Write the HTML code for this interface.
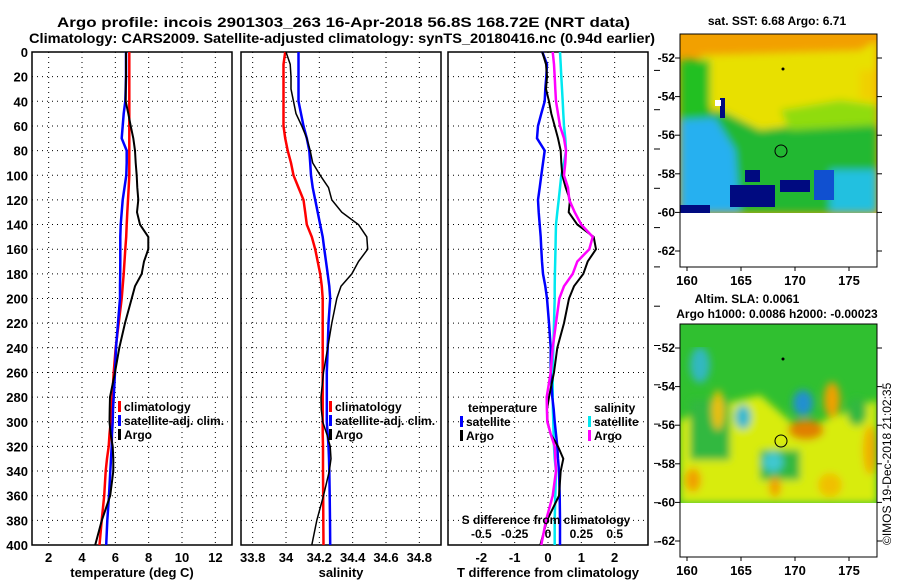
<!DOCTYPE html>
<html><head><meta charset="utf-8"><style>
body{margin:0;background:#fff}
svg{display:block;font-family:"Liberation Sans",sans-serif;font-weight:bold}
text{fill:#000}
</style></head><body>
<svg id="c" width="900" height="580" viewBox="0 0 900 580">
<defs>
<filter id="bl" x="0" y="0" width="1" height="1"><feGaussianBlur stdDeviation="4"/></filter>
<clipPath id="m1c"><rect x="680" y="34" width="197" height="179"/></clipPath>
<clipPath id="m2c"><rect x="680" y="324" width="197" height="179"/></clipPath>
</defs>
<text x="57" y="27" font-size="14" textLength="573" lengthAdjust="spacingAndGlyphs">Argo profile: incois 2901303_263 16-Apr-2018 56.8S 168.72E (NRT data)</text>
<text x="29" y="43" font-size="14" textLength="626" lengthAdjust="spacingAndGlyphs">Climatology: CARS2009. Satellite-adjusted climatology: synTS_20180416.nc (0.94d earlier)</text>
<g id="plots"></g>
<g id="maps">
 <g clip-path="url(#m1c)">
  <rect x="680" y="34" width="197" height="179" fill="#f2a000"/>
  <g filter="url(#bl)">
   <path d="M700 55 L860 50 L877 40 L877 140 L830 160 L760 150 L720 120 L700 90 Z" fill="#e8e000"/>
   <rect x="680" y="60" width="30" height="90" fill="#20c020"/>
   <rect x="860" y="70" width="17" height="30" fill="#f0d000"/>
   <path d="M680 120 L720 110 L760 130 L800 125 L877 120 L877 213 L680 213 Z" fill="#20b830"/>
   <path d="M780 110 L840 100 L877 105 L877 125 L790 130 Z" fill="#90dc10"/>
   <path d="M680 120 L715 118 L735 150 L740 213 L680 213 Z" fill="#28b0f0"/>
   <rect x="830" y="170" width="47" height="43" fill="#20c0e0"/>
  </g>
  <rect x="730" y="185" width="45" height="22" fill="#000a80"/>
  <rect x="745" y="170" width="15" height="12" fill="#000a80"/>
  <rect x="780" y="180" width="30" height="12" fill="#000a80"/>
  <rect x="680" y="205" width="30" height="8" fill="#000a80"/>
  <rect x="720" y="98" width="5" height="20" fill="#000a80"/>
  <rect x="814" y="170" width="20" height="30" fill="#1050d0"/>
  <rect x="715" y="100" width="6" height="6" fill="#fff"/>
 </g>
 <rect x="680" y="34" width="197" height="233" fill="none" stroke="#000"/>
 <circle cx="781" cy="151" r="6" fill="none" stroke="#000"/>
 <circle cx="783" cy="69" r="1.5" fill="#000"/>
 <g clip-path="url(#m2c)">
  <rect x="680" y="324" width="197" height="179" fill="#30c030"/>
  <g filter="url(#bl)">
   <path d="M680 420 L720 405 L760 395 L800 430 L877 400 L877 503 L680 503 Z" fill="#d8ec10"/>
   <rect x="690" y="400" width="40" height="60" fill="#30b840"/>
   <rect x="760" y="450" width="40" height="30" fill="#30b840"/>
   <ellipse cx="700" cy="365" rx="10" ry="18" fill="#30b8c0"/>
   <ellipse cx="743" cy="417" rx="8" ry="12" fill="#30b8d0"/>
   <ellipse cx="803" cy="403" rx="10" ry="13" fill="#2090d0"/>
   <ellipse cx="773" cy="462" rx="10" ry="10" fill="#40c8d0"/>
   <ellipse cx="806" cy="430" rx="18" ry="10" fill="#e08000"/>
   <ellipse cx="832" cy="400" rx="8" ry="18" fill="#f0a000"/>
   <ellipse cx="693" cy="480" rx="8" ry="12" fill="#f0a000"/>
   <ellipse cx="775" cy="487" rx="6" ry="10" fill="#f0a000"/>
   <ellipse cx="830" cy="485" rx="12" ry="12" fill="#f0c000"/>
   <ellipse cx="718" cy="410" rx="6" ry="20" fill="#f0c000"/>
   <ellipse cx="870" cy="450" rx="7" ry="25" fill="#f0b000"/>
   <ellipse cx="857" cy="412" rx="10" ry="14" fill="#30b840"/>
  </g>
 </g>
 <rect x="680" y="324" width="197" height="233" fill="none" stroke="#000"/>
 <circle cx="781" cy="441" r="6" fill="none" stroke="#000"/>
 <circle cx="783" cy="359" r="1.5" fill="#000"/>
 <text x="777" y="25" font-size="12" text-anchor="middle">sat. SST: 6.68 Argo: 6.71</text>
 <text x="747" y="303" font-size="12" text-anchor="middle">Altim. SLA: 0.0061</text>
 <text x="777" y="318" font-size="12" text-anchor="middle">Argo h1000: 0.0086 h2000: -0.00023</text>
 <text transform="translate(891,545) rotate(-90)" font-size="12" font-weight="normal">©IMOS 19-Dec-2018 21:02:35</text>
 <g id="mapticks"></g>
</g>
</svg>
<script>
const NS='http://www.w3.org/2000/svg';
const depths=[0,10,20,30,40,50,60,70,80,90,100,110,120,130,140,150,160,170,180,190,200,220,240,260,280,290,300,310,320,330,340,360,380,400];
const tempClim=[6.84,6.84,6.84,6.84,6.84,6.84,6.84,6.84,6.84,6.84,6.84,6.8,6.76,6.72,6.68,6.65,6.6,6.55,6.5,6.44,6.38,6.2,6.02,5.9,5.82,5.78,5.72,5.65,5.6,5.5,5.42,5.33,5.18,5.05];
const tempSat=[6.64,6.64,6.64,6.62,6.6,6.5,6.44,6.38,6.68,6.68,6.66,6.55,6.44,6.38,6.32,6.3,6.3,6.3,6.29,6.28,6.28,6.16,6.04,5.98,5.9,5.86,5.84,5.8,5.78,5.74,5.7,5.62,5.52,5.45];
const tempArgo=[6.64,6.64,6.64,6.62,6.62,6.78,6.92,7.08,7.18,7.22,7.28,7.32,7.38,7.3,7.48,7.98,7.98,7.72,7.58,7.18,6.98,6.58,6.24,5.98,5.68,5.66,5.65,5.72,5.84,5.88,5.88,5.69,5.19,4.79];
const salClim=[33.995,33.985,33.985,33.985,33.985,33.985,33.985,33.995,34.01,34.03,34.045,34.075,34.105,34.115,34.125,34.155,34.175,34.19,34.205,34.215,34.22,34.22,34.22,34.22,34.22,34.22,34.22,34.22,34.222,34.222,34.222,34.223,34.224,34.225];
const salSat=[34.075,34.075,34.075,34.075,34.075,34.09,34.105,34.125,34.14,34.145,34.15,34.16,34.175,34.19,34.205,34.22,34.23,34.24,34.25,34.26,34.265,34.255,34.25,34.245,34.245,34.245,34.245,34.25,34.255,34.258,34.26,34.262,34.264,34.265];
const salArgo=[34.0,34.025,34.03,34.03,34.045,34.06,34.095,34.125,34.145,34.16,34.205,34.255,34.275,34.335,34.435,34.485,34.49,34.435,34.395,34.33,34.305,34.275,34.25,34.225,34.21,34.212,34.22,34.245,34.265,34.27,34.26,34.225,34.185,34.155];
const tdiffSat=[-0.17,-0.03,-0.05,-0.08,-0.1,-0.2,-0.3,-0.33,-0.1,-0.15,-0.2,-0.25,-0.3,-0.28,-0.25,-0.22,-0.2,-0.18,-0.15,-0.08,-0.03,0.03,0.08,0.08,0.13,0.17,0.2,0.24,0.28,0.3,0.33,0.35,0.36,0.36];
const tdiffArgo=[-0.17,-0.06,-0.03,-0.06,0.03,0.1,0.2,0.3,0.38,0.4,0.43,0.53,0.66,0.62,0.88,1.37,1.44,1.19,1.06,0.78,0.63,0.48,0.28,0.18,0.03,-0.03,-0.01,0.08,0.3,0.46,0.38,0.33,-0.03,-0.23];
const sdiffSat=[0.09,0.095,0.1,0.105,0.11,0.115,0.12,0.13,0.135,0.12,0.1,0.09,0.08,0.07,0.06,0.058,0.056,0.054,0.052,0.05,0.05,0.045,0.04,0.035,0.035,0.037,0.04,0.042,0.045,0.05,0.06,0.055,0.05,0.05];
const sdiffArgo=[0.035,0.045,0.05,0.055,0.06,0.075,0.09,0.12,0.135,0.13,0.12,0.15,0.16,0.2,0.25,0.335,0.31,0.22,0.185,0.12,0.085,0.06,0.035,0.02,-0.01,-0.008,-0.005,0.02,0.05,0.055,0.06,0.035,-0.015,-0.05];
const depthTicks=[0,20,40,60,80,100,120,140,160,180,200,220,240,260,280,300,320,340,360,380,400];
const tempTicks=[2,4,6,8,10,12];
const salTicks=[33.8,34,34.2,34.4,34.6,34.8];
const tdTicks=[-2,-1,0,1,2];
const sdTicks=[-0.5,-0.25,0,0.25,0.5];
const latTicks=[-52,-54,-56,-58,-60,-62];
const lonTicks=[160,165,170,175];

const Y0=52,Y1=545;
const yS=d=>Y0+(Y1-Y0)*d/400;
function lin(d0,d1,r0,r1){return v=>r0+(v-d0)*(r1-r0)/(d1-d0);}
const xT=lin(1,13,32,232), xS=lin(33.73,34.93,241,441), xTD=lin(-3,3,448,648), xSD=v=>xTD(v*4);
const G=document.getElementById('plots');
function el(tag,attrs,parent){const e=document.createElementNS(NS,tag);for(const k in attrs)e.setAttribute(k,attrs[k]);(parent||G).appendChild(e);return e;}
function txt(x,y,s,size,anchor,parent){const t=el('text',{x:x,y:y,'font-size':size,'text-anchor':anchor||'start'},parent);t.textContent=s;return t;}

function panel(name,x0,x1,xf,ticks,fmt,title,showY){
  const g=el('g',{});
  
  
  depthTicks.forEach(d=>{el('line',{x1:x0,x2:x1,y1:yS(d),y2:yS(d),stroke:'#000','stroke-dasharray':'1,4','stroke-width':1},g);});
  ticks.forEach(v=>{const x=xf(v);el('line',{x1:x,x2:x,y1:Y0,y2:Y1,stroke:'#000','stroke-dasharray':'1,4'},g);
    const t=txt(x,562,fmt(v),13,'middle',g);});
  el('rect',{x:x0,y:Y0,width:x1-x0,height:Y1-Y0,fill:'none',stroke:'#000','stroke-width':1.5},g);
  const tt=txt((x0+x1)/2,577,title,13,'middle',g);
  
  
  if(showY){depthTicks.forEach(d=>{const t=txt(28,yS(d)+5,String(d),13,'end',g);
    
    });}
  return g;
}
function series(g,xf,vals,color,w,name){
  const p=el('polyline',{points:vals.map((v,i)=>xf(v).toFixed(1)+','+yS(depths[i]).toFixed(1)).join(' '),fill:'none',stroke:color,'stroke-width':w},g);
  
  
}
function legItem(g,x,y,color,label){
  el('rect',{x:x,y:y-10,width:3,height:11,fill:color},g);
  const t=txt(x+6,y,label,12,'start',g);
  
  
}
const p1=panel('temperature-panel',32,232,xT,tempTicks,v=>String(v),'temperature (deg C)',true);
series(p1,xT,tempClim,'#f00',2.5,'temp-climatology-line');
series(p1,xT,tempSat,'#00f',2.5,'temp-satellite-line');
series(p1,xT,tempArgo,'#000',2,'temp-argo-line');
legItem(p1,118,411,'#f00','climatology');legItem(p1,118,425,'#00f','satellite-adj. clim.');legItem(p1,118,439,'#000','Argo');

const p2=panel('salinity-panel',241,441,xS,salTicks,v=>String(v),'salinity',false);
series(p2,xS,salClim,'#f00',2.5,'sal-climatology-line');
series(p2,xS,salSat,'#00f',2.5,'sal-satellite-line');
series(p2,xS,salArgo,'#000',1.5,'sal-argo-line');
legItem(p2,329,411,'#f00','climatology');legItem(p2,329,425,'#00f','satellite-adj. clim.');legItem(p2,329,439,'#000','Argo');

const p3=panel('difference-panel',448,648,xTD,tdTicks,v=>String(v),'T difference from climatology',false);
for(let k=0;k<13;k++){const y=542-k*39.3;el('line',{x1:654,x2:660,y1:y,y2:y,stroke:'#000'},p3);}
series(p3,xSD,sdiffSat,'#00e8f0',2.5,'sdiff-satellite-line');
series(p3,xTD,tdiffSat,'#00f',2.5,'tdiff-satellite-line');
series(p3,xTD,tdiffArgo,'#000',2,'tdiff-argo-line');
series(p3,xSD,sdiffArgo,'#f0f',2.5,'sdiff-argo-line');
txt(468,412,'temperature',12,'start',p3);txt(594,412,'salinity',12,'start',p3);
legItem(p3,460,426,'#00f','satellite');legItem(p3,460,440,'#000','Argo');
legItem(p3,588,426,'#00e8f0','satellite');legItem(p3,588,440,'#f0f','Argo');
txt(546,524,'S difference from climatology',12,'middle',p3);
sdTicks.forEach(v=>{const t=txt(xSD(v),538,String(v),12,'middle',p3);
  
  });

const MT=document.getElementById('mapticks');
const lonX=lin(160,175,687,849);
[[58,267,285],[348,557,575]].forEach(([latTop,frameBot,lblY])=>{
  const latY=lin(-52,-62,latTop,latTop+193);
  latTicks.forEach(v=>{const y=latY(v);el('line',{x1:877,x2:882,y1:y,y2:y,stroke:'#000'},MT);el('line',{x1:675,x2:680,y1:y,y2:y,stroke:'#000'},MT);
    const t=txt(675,y+4,String(v),12,'end',MT);});
  lonTicks.forEach(v=>{const x=lonX(v);el('line',{x1:x,x2:x,y1:frameBot,y2:frameBot+4,stroke:'#000'},MT);
    const t=txt(x,lblY,String(v),13,'middle',MT);});
});
</script>
</body></html>
